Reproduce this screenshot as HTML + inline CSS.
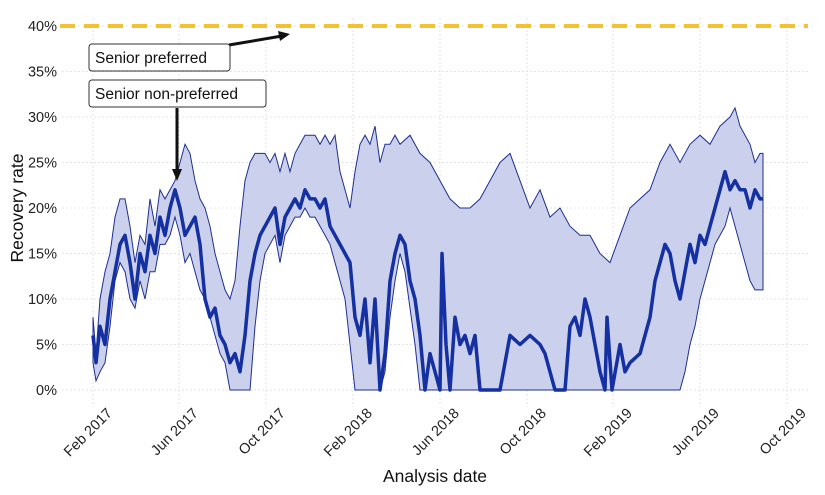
<!DOCTYPE html>
<html><head><meta charset="utf-8"><style>
body{margin:0;background:#fff}
svg{display:block;font-family:"Liberation Sans",sans-serif}
</style></head><body>
<svg id="s" width="825" height="495" viewBox="0 0 825 495">
<g id="grid" stroke="#e3e3e3" stroke-dasharray="2,2" stroke-width="1"></g>
<path id="band" fill="#cbd0ec" stroke="#1d2f8f" stroke-width="1"></path>
<polyline id="mean" fill="none" stroke="#1530a0" stroke-width="3.5" stroke-linejoin="round"></polyline>
<line x1="60" y1="26" x2="808" y2="26" stroke="#f1c232" stroke-width="4" stroke-dasharray="15,9"/>
<g id="ylab" font-size="14.5" fill="#222" text-anchor="end"></g>
<g id="xlab" font-size="14.5" fill="#222"></g>
<text x="435" y="482" font-size="17.5" text-anchor="middle" fill="#111">Analysis date</text>
<text transform="translate(23,208) rotate(-90)" font-size="17.5" text-anchor="middle" fill="#111">Recovery rate</text>
<line x1="229" y1="45" x2="282" y2="36" stroke="#111" stroke-width="3"/>
<polygon points="290,34 278,31 280,41" fill="#111"/>
<line x1="177" y1="108" x2="177" y2="172" stroke="#111" stroke-width="3"/>
<polygon points="177,181 172,169 182,169" fill="#111"/>
<rect x="89" y="44" width="141" height="27" rx="3" fill="#fff" stroke="#333"/>
<text x="95" y="63" font-size="15.5" fill="#111">Senior preferred</text>
<rect x="89" y="80" width="177" height="27" rx="3" fill="#fff" stroke="#333"/>
<text x="95" y="99" font-size="15.5" fill="#111">Senior non-preferred</text>
</svg>
<script>
const Y=v=>390-9.1*v;
const xs=[93,179,266,353,440,527,613,700,787];
const xl=["Feb 2017","Jun 2017","Oct 2017","Feb 2018","Jun 2018","Oct 2018","Feb 2019","Jun 2019","Oct 2019"];
let g="";
for(const x of xs) g+=`<line x1="${x}" y1="18" x2="${x}" y2="407"/>`;
for(let v=0;v<=40;v+=5) g+=`<line x1="62" y1="${Y(v)}" x2="808" y2="${Y(v)}"/>`;
document.getElementById("grid").innerHTML=g;
let yl="";for(let v=0;v<=40;v+=5) yl+=`<text x="57" y="${Y(v)+5}">${v}%</text>`;
document.getElementById("ylab").innerHTML=yl;
let xt="";xs.forEach((x,i)=>{xt+=`<text transform="translate(${x+20},${414}) rotate(-45)" text-anchor="end">${xl[i]}</text>`});
document.getElementById("xlab").innerHTML=xt;
const P=s=>s.trim().split(/\s*,\s*/).map(p=>p.split(":").map(Number));
const mean=P(`93:6, 96:3, 100:7, 105:5, 110:10, 115:13, 120:16, 125:17, 130:14, 135:10, 140:15, 145:13, 150:17, 155:15, 160:19, 165:17, 170:20, 175:22, 180:20, 185:17, 190:18, 195:19, 200:16, 205:10, 210:8, 215:9, 220:6, 225:5, 230:3, 235:4, 240:2, 245:6, 250:12, 255:15, 260:17, 265:18, 270:19, 275:20, 280:16, 285:19, 290:20, 295:21, 300:20, 305:22, 310:21, 315:21, 320:20, 325:21, 330:18, 335:17, 340:16, 345:15, 350:14, 355:8, 360:6, 365:10, 370:3, 375:10, 380:0, 385:4, 390:12, 395:15, 400:17, 405:16, 410:12, 415:10, 420:6, 425:0, 430:4, 435:2, 440:0, 442:15, 446:5, 450:0, 455:8, 460:5, 465:6, 470:4, 475:6, 480:0, 490:0, 500:0, 505:3, 510:6, 520:5, 530:6, 540:5, 545:4, 550:2, 555:0, 565:0, 570:7, 575:8, 580:6, 585:10, 590:8, 595:5, 600:2, 605:0, 607:8, 612:0, 620:5, 625:2, 630:3, 640:4, 645:6, 650:8, 655:12, 660:14, 665:16, 670:15, 675:12, 680:10, 685:13, 690:16, 695:14, 700:17, 705:16, 710:18, 715:20, 720:22, 725:24, 730:22, 735:23, 740:22, 745:22, 750:20, 755:22, 760:21, 763:21`);
const up=P(`93:8, 96:4, 100:10, 105:13, 110:15, 115:19, 120:21, 125:21, 130:18, 135:14, 140:17, 145:16, 150:21, 155:18, 160:22, 165:21, 170:22, 175:23, 180:25, 185:27, 190:26, 195:23, 200:21, 205:20, 210:18, 215:15, 220:13, 225:11, 230:10, 235:12, 240:18, 245:23, 250:25, 255:26, 260:26, 265:26, 270:25, 275:26, 280:24, 285:26, 290:24, 295:26, 300:27, 305:28, 310:28, 315:28, 320:27, 325:28, 330:27, 335:28, 340:24, 345:22, 350:20, 355:24, 360:27, 365:28, 370:27, 375:29, 380:25, 385:27, 390:27, 395:28, 400:27, 410:28, 420:26, 430:25, 440:23, 450:21, 460:20, 470:20, 480:21, 490:23, 500:25, 510:26, 520:23, 530:20, 540:22, 550:19, 560:20, 570:18, 580:17, 590:17, 600:15, 610:14, 620:17, 630:20, 640:21, 650:22, 660:25, 670:27, 680:25, 690:27, 700:28, 710:27, 720:29, 730:30, 735:31, 740:29, 750:27, 755:25, 760:26, 763:26`);
const lo=P(`93:3, 96:1, 100:2, 105:3, 110:7, 115:12, 120:14, 125:13, 130:10, 135:9, 140:12, 145:10, 150:13, 155:13, 160:16, 165:16, 170:17, 175:19, 180:17, 185:14, 190:15, 195:13, 200:11, 205:10, 210:8, 215:6, 220:4, 225:3, 230:0, 250:0, 255:7, 260:12, 265:15, 270:16, 275:17, 280:14, 285:17, 290:18, 295:19, 300:19, 305:20, 310:19, 315:19, 320:18, 325:17, 330:16, 335:14, 340:12, 345:10, 350:5, 355:0, 380:0, 385:2, 390:8, 395:12, 400:15, 405:13, 410:9, 415:5, 420:0, 680:0, 685:2, 690:5, 695:7, 700:10, 705:12, 710:14, 715:16, 720:17, 725:18, 730:20, 740:16, 745:14, 750:12, 755:11, 760:11, 763:11`);
const pts=a=>a.map(([x,v])=>x+","+Y(v).toFixed(1));
document.getElementById("mean").setAttribute("points",pts(mean).join(" "));
document.getElementById("band").setAttribute("d","M"+pts(up).join(" L")+" L"+pts(lo.slice().reverse()).join(" L")+"Z");
</script>
</body></html>
